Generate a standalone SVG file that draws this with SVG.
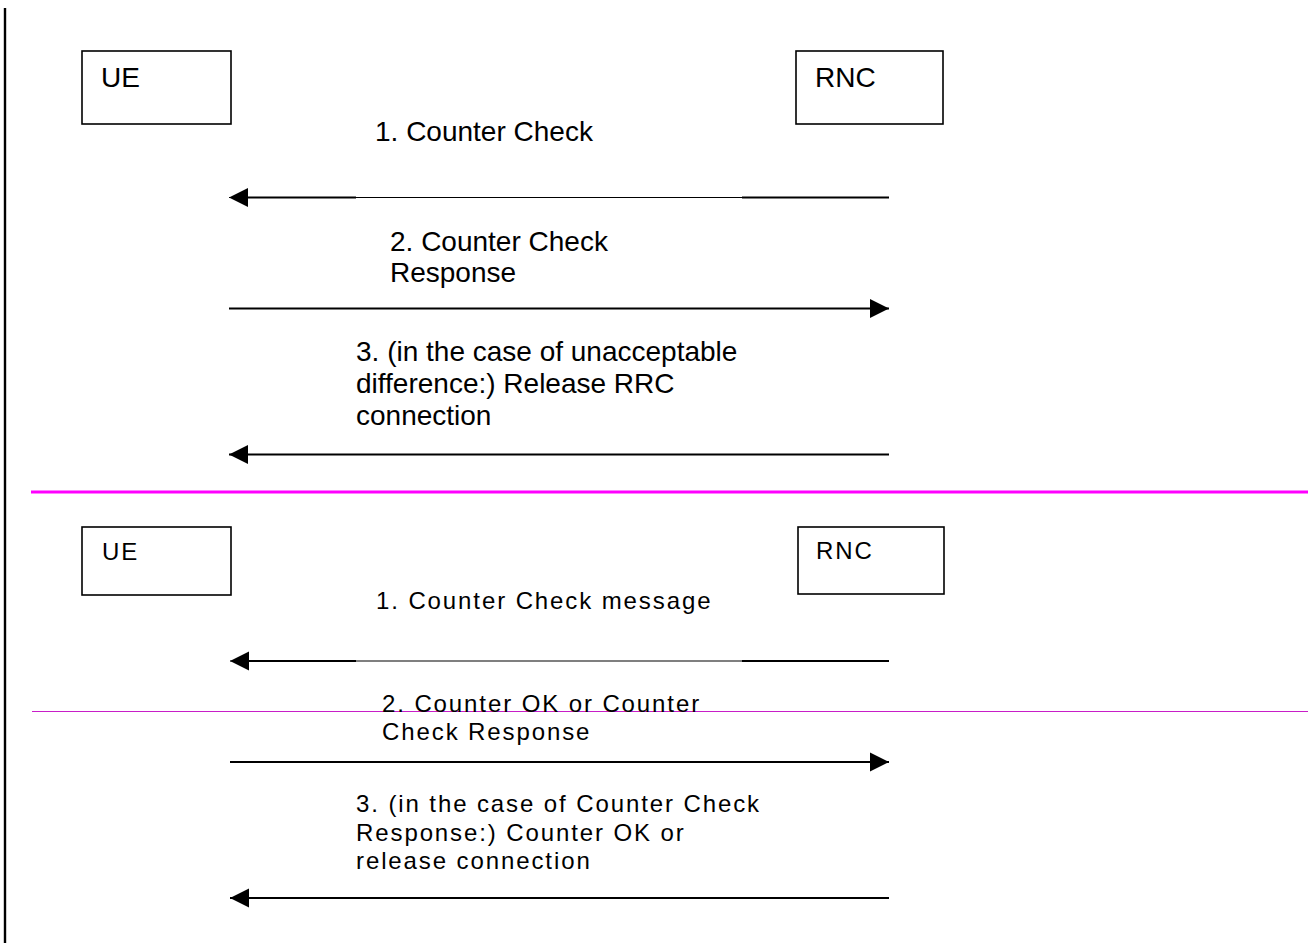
<svg xmlns="http://www.w3.org/2000/svg" width="1308" height="943" viewBox="0 0 1308 943">
<style>
.box{fill:#fff;stroke:#000;stroke-width:1.6}
.t1{font-family:"Liberation Sans",Arial,sans-serif;font-size:28px;fill:#000}
.t2{font-family:"Liberation Sans",Arial,sans-serif;font-size:24px;letter-spacing:1.9px;fill:#000}
.msg{stroke:#000;stroke-width:1.8;fill:none}
.thin{stroke:#000;stroke-width:1.2;fill:none}
.thick{stroke:#000;stroke-width:2.2;fill:none}
</style>
<defs>
<marker id="ah" markerUnits="userSpaceOnUse" markerWidth="20" markerHeight="20" refX="19" refY="9.5" orient="auto" viewBox="0 0 20 19">
<path d="M0,0 L19,9.5 L0,19 z" fill="#000"/>
</marker>
</defs>
<rect width="1308" height="943" fill="#fff"/>
<g id="frame">
<line x1="5" y1="8" x2="5" y2="943" stroke="#000" stroke-width="2.4"/>
<line x1="31" y1="492" x2="1308" y2="492" stroke="#ff00ff" stroke-width="3"/>
<line x1="32" y1="711.5" x2="1308" y2="711.5" stroke="#c81ec8" stroke-width="1.2"/>
</g>
<g id="ue1"><rect class="box" x="82" y="51" width="149" height="73"/><text class="t1" x="101" y="87">UE</text></g>
<g id="rnc1"><rect class="box" x="796" y="51" width="147" height="73"/><text class="t1" x="815" y="87">RNC</text></g>
<g id="ue2"><rect class="box" x="82" y="527" width="149" height="68"/><text class="t2" x="102" y="560">UE</text></g>
<g id="rnc2"><rect class="box" x="798" y="527" width="146" height="67"/><text class="t2" x="816" y="559">RNC</text></g>
<g id="connectors">
<line class="thin" x1="889" y1="197.5" x2="229" y2="197.5" marker-end="url(#ah)"/>
<line class="thick" x1="889" y1="197.5" x2="742" y2="197.5"/>
<line class="thick" x1="356" y1="197.5" x2="245" y2="197.5"/>
<line class="msg" x1="229" y1="308.5" x2="889" y2="308.5" marker-end="url(#ah)"/>
<line class="msg" x1="889" y1="454.5" x2="229" y2="454.5" marker-end="url(#ah)"/>
<line class="thin" x1="889" y1="661" x2="230" y2="661" marker-end="url(#ah)"/>
<line class="thick" x1="889" y1="661" x2="742" y2="661"/>
<line class="thick" x1="356" y1="661" x2="246" y2="661"/>
<line class="msg" x1="230" y1="762" x2="889" y2="762" marker-end="url(#ah)"/>
<line class="msg" x1="889" y1="898" x2="230" y2="898" marker-end="url(#ah)"/>
</g>
<g id="labels">
<text class="t1" x="375" y="141">1. Counter Check</text>
<text class="t1" x="390" y="251">2. Counter Check</text>
<text class="t1" x="390" y="282">Response</text>
<text class="t1" x="356" y="361">3. (in the case of unacceptable</text>
<text class="t1" x="356" y="393">difference:) Release RRC</text>
<text class="t1" x="356" y="425">connection</text>
<text class="t2" x="376" y="609">1. Counter Check message</text>
<text class="t2" x="382" y="712">2. Counter OK or Counter</text>
<text class="t2" x="382" y="740">Check Response</text>
<text class="t2" x="356" y="812">3. (in the case of Counter Check</text>
<text class="t2" x="356" y="841">Response:) Counter OK or</text>
<text class="t2" x="356" y="869">release connection</text>
</g>
</svg>
